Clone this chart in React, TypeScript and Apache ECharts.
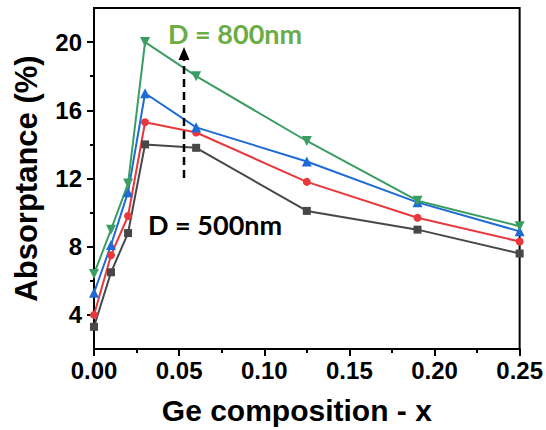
import React, { useEffect, useRef } from "react";
import * as echarts from "echarts";

const xValues = [0, 0.01, 0.02, 0.03, 0.06, 0.125, 0.19, 0.25];
const d500 = [3.3, 6.5, 8.8, 14.0, 13.8, 10.1, 9.0, 7.6];
const d600 = [4.0, 7.5, 9.8, 15.3, 14.7, 11.8, 9.7, 8.3];
const d700 = [5.3, 8.1, 11.2, 17.0, 15.0, 13.0, 10.6, 8.9];
const d800 = [6.4, 9.0, 11.7, 20.0, 18.0, 14.2, 10.7, 9.2];
const yMajorTicks = [4, 8, 12, 16, 20];
const yMinorTicks = [6, 10, 14, 18];

const seriesDefs = [
  { name: "D = 500nm", data: d500, color: "#474747", symbol: "rect", size: 8 },
  { name: "D = 600nm", data: d600, color: "#e8383d", symbol: "circle", size: 8 },
  { name: "D = 700nm", data: d700, color: "#1f6bd6", symbol: "triangle", size: 10 },
  { name: "D = 800nm", data: d800, color: "#3a9d62", symbol: "triangle", size: 10, rotate: 180 },
];

const FONT = "'Liberation Sans', Arial, sans-serif";

export default function App() {
  const ref = useRef<HTMLDivElement>(null);
  useEffect(() => {
    if (!ref.current) return;
    const chart = echarts.init(ref.current, undefined, { renderer: "svg" });
    chart.setOption({
      animation: false,
      backgroundColor: "#fff",
      grid: {
        left: 94,
        right: 26,
        top: 8,
        bottom: 79,
        show: true,
        borderColor: "#000",
        borderWidth: 2,
      },
      xAxis: {
        type: "value",
        min: 0,
        max: 0.25,
        interval: 0.05,
        name: "Ge composition - x",
        nameLocation: "middle",
        nameGap: 46,
        nameTextStyle: {
          fontFamily: FONT,
          fontWeight: "bold",
          fontSize: 30,
          color: "#000",
          padding: [0, 20, 0, 0],
        },
        axisLine: { show: true, lineStyle: { color: "#000", width: 2 } },
        axisTick: { show: true, length: 7, lineStyle: { color: "#000", width: 2 } },
        minorTick: { show: true, splitNumber: 2, length: 4, lineStyle: { color: "#000", width: 2 } },
        axisLabel: {
          fontFamily: FONT,
          fontWeight: "bold",
          fontSize: 24,
          color: "#000",
          margin: 9,
          formatter: (v: number) => v.toFixed(2),
        },
        splitLine: { show: false },
      },
      yAxis: [
        {
          type: "value",
          min: 2,
          max: 22,
          name: "Absorptance (%)",
          nameLocation: "middle",
          nameGap: 52,
          nameTextStyle: {
            fontFamily: FONT,
            fontWeight: "bold",
            fontSize: 31,
            color: "#000",
          },
          axisLine: { show: true, lineStyle: { color: "#000", width: 2 } },
          axisTick: {
            show: true,
            length: 7,
            customValues: yMajorTicks,
            lineStyle: { color: "#000", width: 2 },
          },
          axisLabel: {
            fontFamily: FONT,
            fontWeight: "bold",
            fontSize: 24,
            color: "#000",
            margin: 12,
            customValues: yMajorTicks,
          },
          splitLine: { show: false },
        },
        {
          type: "value",
          min: 2,
          max: 22,
          position: "left",
          axisLine: { show: false },
          axisTick: {
            show: true,
            length: 4,
            customValues: yMinorTicks,
            lineStyle: { color: "#000", width: 2 },
          },
          axisLabel: { show: false },
          splitLine: { show: false },
        },
      ],
      series: seriesDefs.map((s) => ({
        type: "line",
        name: s.name,
        data: xValues.map((x, i) => [x, s.data[i]]),
        symbol: s.symbol,
        symbolSize: s.size,
        symbolRotate: s.rotate || 0,
        lineStyle: { color: s.color, width: 2 },
        itemStyle: { color: s.color },
        clip: false,
        z: 3,
      })),
      graphic: [
        {
          type: "line",
          shape: { x1: 184, y1: 178, x2: 184, y2: 60 },
          style: { stroke: "#000", lineWidth: 2.5, lineDash: [8, 5] },
          z: 10,
        },
        {
          type: "polygon",
          shape: { points: [[184, 47], [178.5, 60], [189.5, 60]] },
          style: { fill: "#000" },
          z: 10,
        },
        {
          type: "text",
          x: 168,
          y: 33,
          style: {
            text: "D = 800nm",
            fill: "#6aac46",
            fontFamily: "Lato, 'Open Sans', sans-serif",
            fontWeight: "bold",
            fontSize: 27,
            verticalAlign: "middle",
            align: "left",
          },
          z: 10,
        },
        {
          type: "text",
          x: 148,
          y: 224,
          style: {
            text: "D = 500nm",
            fill: "#000",
            fontFamily: "Lato, 'Open Sans', sans-serif",
            fontWeight: "bold",
            fontSize: 27,
            verticalAlign: "middle",
            align: "left",
          },
          z: 10,
        },
      ],
    });
    return () => chart.dispose();
  }, []);
  return <div ref={ref} style={{ width: 546, height: 430, position: "absolute", left: 0, top: 0 }} />;
}
